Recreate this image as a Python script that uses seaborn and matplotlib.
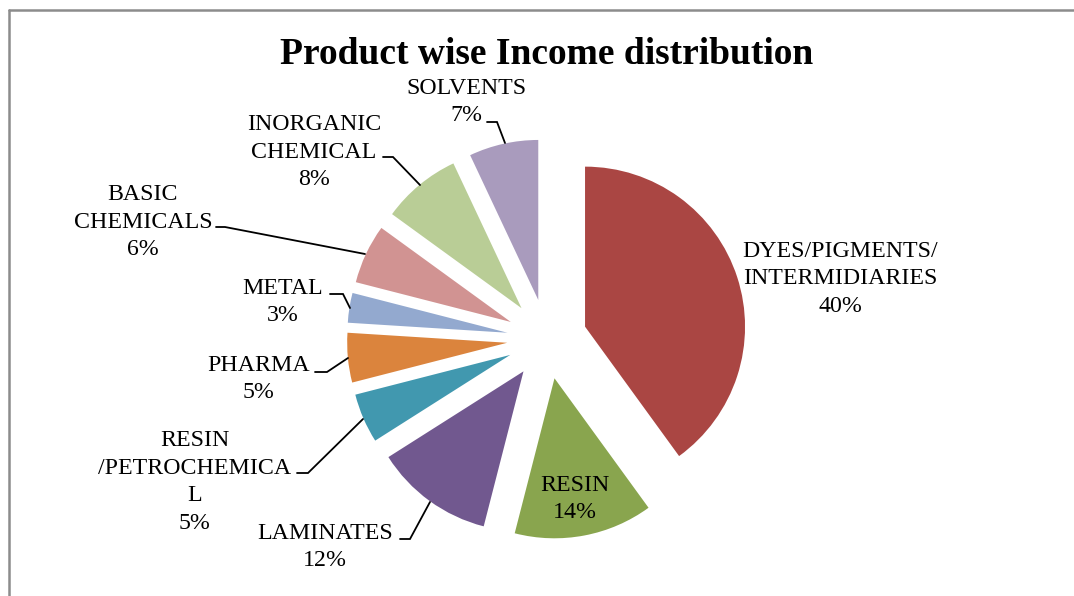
import matplotlib
matplotlib.use("Agg")
import matplotlib.pyplot as plt
import seaborn as sns
from matplotlib.lines import Line2D

# ---- data ----
categories = ["DYES/PIGMENTS/\nINTERMIDIARIES", "RESIN", "LAMINATES",
              "RESIN\n/PETROCHEMICA\nL", "PHARMA", "METAL",
              "BASIC\nCHEMICALS", "INORGANIC\nCHEMICAL", "SOLVENTS"]
values = [40, 14, 12, 5, 5, 3, 6, 8, 7]
colors = ["#AA4643", "#89A54E", "#71588F", "#4198AF", "#DB843D",
          "#93A9CF", "#D19392", "#B9CD96", "#A99BBD"]
title = "Product wise Income distribution"

# ---- layout (pixel coordinates, y downward) ----
W, H = 1074, 596
center_px = (547, 339)
radius_px = 160
explode_px = 40
label_pos = [(840, 279), (575, 499), (325, 547), (195, 482), (259, 379),
             (283, 302), (143, 222), (314, 152), (466, 102)]
leaders = [None, None,
           [(400, 539), (410, 539), (430, 502)],
           [(297, 473), (308, 473), (363, 419)],
           [(315, 372), (327, 372), (348, 358)],
           [(330, 294), (343, 294), (350, 308)],
           [(216, 227), (225, 227), (365, 254)],
           [(383, 157), (393, 157), (420, 185)],
           [(487, 122), (497, 122), (505, 143)]]

sns.set_theme(style="white")
plt.rcParams["font.family"] = ["Liberation Serif", "DejaVu Serif"]

fig = plt.figure(figsize=(W / 100, H / 100), dpi=100)
fig.patch.set_facecolor("white")
ax = fig.add_axes([0, 0, 1, 1])
ax.set_xlim(0, W)
ax.set_ylim(0, H)
ax.set_aspect("equal")
ax.axis("off")

def fy(y):
    return H - y

ax.pie(values, colors=colors, startangle=90, counterclock=False,
       center=(center_px[0], fy(center_px[1])), radius=radius_px,
       explode=[explode_px] * len(values),
       wedgeprops=dict(linewidth=0), frame=False)
ax.set_xlim(0, W)
ax.set_ylim(0, H)

for cat, v, (x, y), ld in zip(categories, values, label_pos, leaders):
    ax.text(x, fy(y), f"{cat}\n{v}%", ha="center", va="center",
            fontsize=17.2, linespacing=1.4, color="black")
    if ld:
        ax.plot([p[0] for p in ld], [fy(p[1]) for p in ld],
                color="black", lw=1.3, solid_joinstyle="miter")

ax.text(547, fy(55), title, ha="center", va="center",
        fontsize=27, fontweight="bold", color="black")

# outer frame (top and left edges)
fig.add_artist(Line2D([9 / W, 1], [1 - 10 / H, 1 - 10 / H],
                      transform=fig.transFigure, color="#8c8c8c", lw=1.8))
fig.add_artist(Line2D([9 / W, 9 / W], [0, 1 - 10 / H],
                      transform=fig.transFigure, color="#8c8c8c", lw=1.8))

fig.savefig("out.png", dpi=100, facecolor="white")
